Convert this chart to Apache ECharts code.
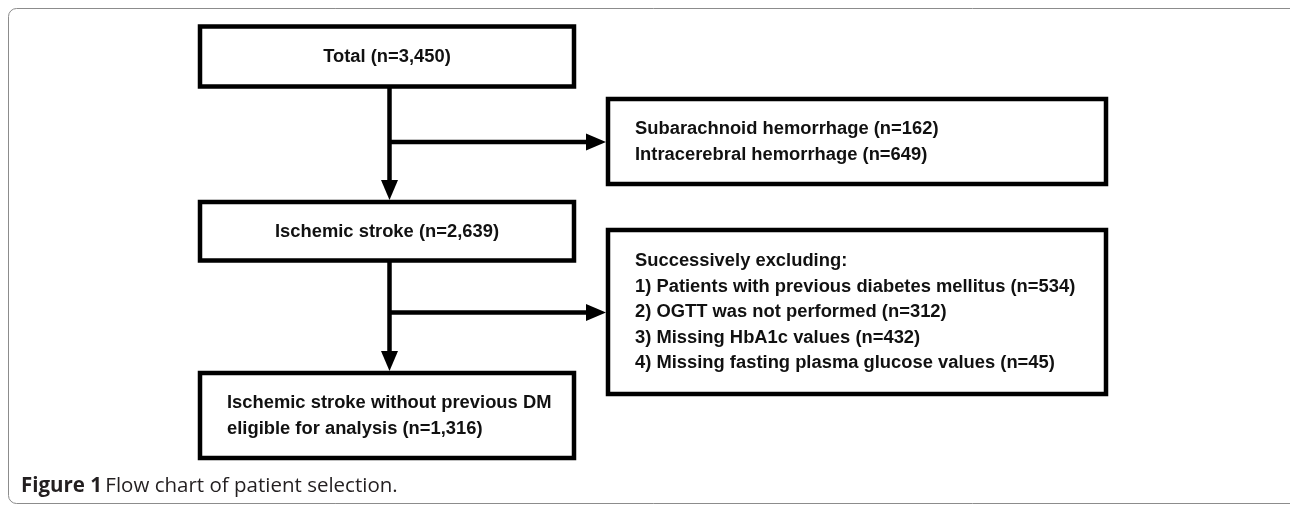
<!DOCTYPE html>
<html>
<head>
<meta charset="utf-8">
<script src="https://cdn.jsdelivr.net/npm/echarts@6/dist/echarts.min.js"></script>
<style>
  html, body { margin: 0; padding: 0; background: #fff; }
  #chart { width: 1290px; height: 505px; }
</style>
</head>
<body>
<div id="chart"></div>
<script>
// box texts, one list of lines per box
const boxLines = [
  ["Total (n=3,450)"],
  ["Ischemic stroke (n=2,639)"],
  ["Ischemic stroke without previous DM", "eligible for analysis (n=1,316)"],
  ["Subarachnoid hemorrhage (n=162)", "Intracerebral hemorrhage (n=649)"],
  [
    "Successively excluding:",
    "1) Patients with previous diabetes mellitus (n=534)",
    "2) OGTT was not performed (n=312)",
    "3) Missing HbA1c values (n=432)",
    "4) Missing fasting plasma glucose values (n=45)",
  ],
];
const boxAlign = ["center", "center", "left", "left", "left"];

// box edges in page units: left, top, right, bottom
const boxRects = [
  [200, 26.5, 574, 86.5],
  [200, 202, 574, 260.5],
  [200, 373, 574, 458],
  [608, 99, 1106, 184],
  [608, 230, 1106, 394],
];

// arrows: from x, from y, to x, to y
const arrows = [
  [389.5, 86.5, 389.5, 200],
  [389.5, 142, 606, 142],
  [389.5, 260.5, 389.5, 371],
  [389.5, 312.5, 606, 312.5],
];

const caption = ["Figure 1", "Flow chart of patient selection."];

const BOX_FONT = 'bold 18px "Liberation Sans", Arial, sans-serif';
const LINE_H = 25.5;

function renderBox(params, api) {
  const i = params.dataIndex;
  const p1 = api.coord([api.value(0), api.value(1)]);
  const p2 = api.coord([api.value(2), api.value(3)]);
  const lines = boxLines[i];
  const left = boxAlign[i] === "left";
  const cy = (p1[1] + p2[1]) / 2;
  const tx = left ? p1[0] + 27 : (p1[0] + p2[0]) / 2;

  const children = [
    {
      type: "rect",
      shape: { x: p1[0], y: p1[1], width: p2[0] - p1[0], height: p2[1] - p1[1] },
      style: { fill: "#fff", stroke: "#000", lineWidth: 4.5 },
    },
  ];
  lines.forEach((t, k) => {
    children.push({
      type: "text",
      x: tx,
      y: cy + (k - (lines.length - 1) / 2) * LINE_H,
      scaleX: 1.02,
      scaleY: 1.06,
      style: {
        text: t,
        fill: "#111",
        font: BOX_FONT,
        textAlign: left ? "left" : "center",
        textVerticalAlign: "middle",
      },
    });
  });
  return { type: "group", children };
}

function renderArrow(params, api) {
  const a = api.coord([api.value(0), api.value(1)]);
  const b = api.coord([api.value(2), api.value(3)]);
  const dx = b[0] - a[0];
  const dy = b[1] - a[1];
  const len = Math.hypot(dx, dy);
  const ux = dx / len;
  const uy = dy / len;
  const hl = 20;
  const hw = 8.5;
  const base = [b[0] - ux * hl, b[1] - uy * hl];
  return {
    type: "group",
    children: [
      {
        type: "line",
        shape: { x1: a[0], y1: a[1], x2: base[0] + ux, y2: base[1] + uy },
        style: { stroke: "#000", lineWidth: 4.5 },
      },
      {
        type: "polygon",
        shape: {
          points: [
            b,
            [base[0] - uy * hw, base[1] + ux * hw],
            [base[0] + uy * hw, base[1] - ux * hw],
          ],
        },
        style: { fill: "#000" },
      },
    ],
  };
}

const chart = echarts.init(document.getElementById("chart"));

chart.setOption({
  animation: false,
  backgroundColor: "#fff",
  grid: { left: 0, right: 0, top: 0, bottom: 0 },
  xAxis: { type: "value", min: 0, max: 1290, show: false },
  yAxis: { type: "value", min: 0, max: 505, inverse: true, show: false },
  graphic: [
    {
      type: "rect",
      shape: { x: 8.5, y: 8.5, width: 1295, height: 495, r: 8 },
      style: { fill: null, stroke: "#8c8c8c", lineWidth: 1 },
      silent: true,
    },
    {
      type: "text",
      left: 21,
      top: 476,
      style: {
        text: `{b|${caption[0]}} {r|${caption[1]}}`,
        rich: {
          b: { font: 'bold 20.5px "Open Sans", sans-serif', fill: "#231f20" },
          r: { font: '20.5px "Open Sans", sans-serif', fill: "#231f20" },
        },
      },
    },
  ],
  series: [
    {
      type: "custom",
      coordinateSystem: "cartesian2d",
      renderItem: renderArrow,
      data: arrows,
      silent: true,
    },
    {
      type: "custom",
      coordinateSystem: "cartesian2d",
      renderItem: renderBox,
      data: boxRects,
      silent: true,
    },
  ],
});
</script>
</body>
</html>
